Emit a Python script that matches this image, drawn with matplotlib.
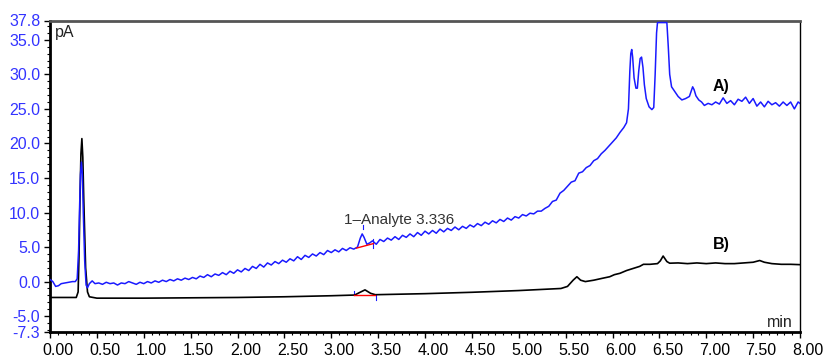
import matplotlib.pyplot as plt
import matplotlib.transforms as mtransforms
from matplotlib.ticker import MultipleLocator, FixedLocator
import numpy as np

plt.rcParams['font.family'] = ['Liberation Sans', 'DejaVu Sans']

# trace A (blue), retention time in min and signal in pA
timeA = [0.00, 0.03, 0.06, 0.09, 0.12, 0.16, 0.20, 0.24, 0.27, 0.29, 0.305, 0.315, 0.325, 0.335, 0.345,
	0.355, 0.37, 0.385,
	0.40, 0.42, 0.45, 0.48, 0.52, 0.56, 0.60, 0.64, 0.68, 0.72, 0.76, 0.80, 0.84, 0.88, 0.92, 0.96,
	1.00, 1.04, 1.08, 1.12, 1.16, 1.20, 1.24, 1.28, 1.32, 1.36, 1.40, 1.44, 1.48, 1.52, 1.56, 1.60,
	1.64, 1.68, 1.72, 1.76, 1.80, 1.84, 1.88, 1.92, 1.96, 2.00, 2.04, 2.08, 2.12, 2.16, 2.20, 2.24,
	2.28, 2.32, 2.36, 2.40, 2.44, 2.48, 2.52, 2.56, 2.60, 2.64, 2.68, 2.72, 2.76, 2.80, 2.84, 2.88,
	2.92, 2.96, 3.00, 3.04, 3.08, 3.12, 3.16, 3.20, 3.24, 3.28, 3.31, 3.33, 3.35, 3.38, 3.41, 3.44, 3.48,
	3.52, 3.56, 3.60, 3.64, 3.68, 3.72, 3.76, 3.80, 3.84, 3.88, 3.92, 3.96, 4.00, 4.04, 4.08, 4.12,
	4.16, 4.20, 4.24, 4.28, 4.32, 4.36, 4.40, 4.44, 4.48, 4.52, 4.56, 4.60, 4.64, 4.68, 4.72, 4.76,
	4.80, 4.84, 4.88, 4.92, 4.96, 5.00, 5.04, 5.08, 5.12, 5.16, 5.20, 5.24, 5.28, 5.32, 5.36, 5.40,
	5.44, 5.48, 5.52, 5.56, 5.60, 5.64, 5.68, 5.72, 5.76, 5.80, 5.84, 5.88, 5.92, 5.96, 6.00, 6.04,
	6.08, 6.12, 6.15, 6.17, 6.185, 6.195, 6.205, 6.215, 6.23, 6.25, 6.265, 6.28, 6.295, 6.31, 6.325,
	6.34, 6.36, 6.39, 6.42, 6.44,
	6.455, 6.47, 6.48, 6.58, 6.595, 6.61, 6.63, 6.66, 6.70, 6.74, 6.78, 6.82, 6.84, 6.855, 6.87, 6.89,
	6.92, 6.95,
	6.98, 7.02, 7.06, 7.10, 7.14, 7.18, 7.22, 7.26, 7.30, 7.34, 7.38, 7.42, 7.46, 7.50, 7.54, 7.58,
	7.62, 7.66, 7.70, 7.74, 7.78, 7.82, 7.86, 7.90, 7.94, 7.98, 8.00]
signalA = [0.3, 0.0, -0.7, -0.6, -0.3, -0.2, -0.1, 0.0, 0.0, 0.4, 4.5, 10.5, 15.5, 17.3, 15.5,
	10.0, 3.0, -0.5,
	-0.9, -0.3, 0.1, -0.3, -0.2, -0.4, -0.1, -0.3, -0.2, -0.5, -0.2, -0.3, 0.0, -0.2, -0.4, -0.1,
	-0.3, 0.0, -0.2, 0.1, -0.1, 0.2, 0.0, 0.3, 0.1, 0.4, 0.2, 0.5, 0.3, 0.6, 0.4, 0.8,
	0.6, 1.0, 0.7, 1.1, 0.9, 1.3, 1.0, 1.5, 1.2, 1.7, 1.4, 1.9, 1.6, 2.2, 1.9, 2.5,
	2.1, 2.7, 2.4, 2.9, 2.6, 3.1, 2.8, 3.3, 3.0, 3.6, 3.2, 3.8, 3.5, 4.0, 3.7, 4.2,
	3.9, 4.5, 4.2, 4.6, 4.3, 4.8, 4.5, 4.9, 4.7, 5.0, 6.3, 6.9, 6.4, 5.4, 5.6, 5.9, 5.4,
	6.1, 5.8, 6.3, 6.0, 6.5, 6.1, 6.7, 6.4, 6.9, 6.5, 7.1, 6.7, 7.3, 6.9, 7.4, 7.0,
	7.6, 7.2, 7.7, 7.4, 7.9, 7.5, 8.0, 7.7, 8.2, 7.9, 8.4, 8.1, 8.6, 8.3, 8.8, 8.5,
	9.0, 8.7, 9.2, 8.9, 9.4, 9.2, 9.7, 9.5, 9.9, 9.8, 10.2, 10.2, 10.6, 10.9, 11.6, 11.8,
	12.8, 13.2, 13.8, 14.4, 14.6, 15.7, 15.9, 16.5, 16.8, 17.5, 17.8, 18.5, 19.0, 19.6, 20.2, 20.8,
	21.6, 22.3, 23.0, 25.0, 30.5, 33.0, 33.6, 32.5, 29.5, 28.0, 28.0, 30.5, 32.3, 32.5, 31.0,
	28.5, 26.5, 25.3, 24.9, 25.2,
	30.0, 36.0, 37.5, 37.5, 34.0, 30.0, 28.2, 27.6, 26.8, 26.3, 26.5, 26.8, 27.6, 28.2, 27.8, 26.9,
	26.3, 26.0,
	25.5, 25.8, 25.6, 26.0, 25.7, 26.6, 25.8, 26.2, 25.6, 26.4, 26.1, 26.7, 25.8, 26.5, 25.4, 26.0,
	25.3, 26.1, 25.6, 25.9, 25.4, 26.0, 25.5, 26.0, 25.0, 26.0, 25.8]

# trace B (black)
timeB = [0.00, 0.28, 0.30, 0.31, 0.32, 0.33, 0.34, 0.35, 0.36, 0.38, 0.40, 0.42, 0.50, 1.00, 1.50,
	2.00, 2.50, 3.00, 3.25, 3.30, 3.36, 3.42, 3.47, 4.00, 4.50, 5.00, 5.30, 5.45, 5.52, 5.58, 5.62,
	5.66, 5.71, 5.80, 5.90, 5.97, 6.02, 6.08, 6.15, 6.22, 6.29, 6.33, 6.40, 6.48, 6.51, 6.54, 6.58,
	6.61, 6.70, 6.80, 6.90, 7.00, 7.10, 7.20, 7.30, 7.40, 7.50, 7.57, 7.62, 7.70, 7.80, 7.90, 8.00]
signalB = [-2.3, -2.3, -1.5, 4.0, 12.0, 18.5, 20.7, 18.0, 12.0, 2.0, -1.5, -2.2, -2.4, -2.4, -2.35,
	-2.3, -2.2, -2.05, -1.95, -1.6, -1.2, -1.7, -1.9, -1.75, -1.55, -1.3, -1.1, -1.0, -0.7, 0.2, 0.7,
	0.2, 0.0, 0.2, 0.5, 0.7, 1.0, 1.2, 1.6, 1.9, 2.2, 2.5, 2.5, 2.6, 3.0, 3.7, 2.9,
	2.66, 2.7, 2.6, 2.7, 2.6, 2.7, 2.6, 2.6, 2.7, 2.8, 3.05, 2.8, 2.6, 2.5, 2.5, 2.45]

# integration baselines of the analyte peak
baseA_t = [3.27, 3.45]
baseA_v = [4.85, 5.5]
baseB_t = [3.24, 3.47]
baseB_v = [-1.93, -1.93]

xtick_vals = [0.0, 0.5, 1.0, 1.5, 2.0, 2.5, 3.0, 3.5, 4.0, 4.5, 5.0, 5.5, 6.0, 6.5, 7.0, 7.5, 8.0]
ytick_vals = [-7.3, -5.0, 0.0, 5.0, 10.0, 15.0, 20.0, 25.0, 30.0, 35.0, 37.8]

fig = plt.figure(figsize=(8.26, 3.6), dpi=100)
ax = fig.add_axes([50/826, 28/360, 750/826, 311.5/360])

ax.plot(timeB, signalB, color='black', lw=1.2, zorder=3)
ax.plot(timeA, signalA, color='#1a1aff', lw=1.1, zorder=4)
ax.plot(baseA_t, baseA_v, color='red', lw=1.0, zorder=5)
ax.plot(baseB_t, baseB_v, color='red', lw=1.0, zorder=5)
# peak start/end markers
ax.plot([3.335, 3.335], [7.6, 8.2], color='#1a1aff', lw=0.8)
ax.plot([3.45, 3.45], [4.8, 6.2], color='#1a1aff', lw=0.8)
ax.plot([3.24, 3.24], [-2.0, -1.4], color='#1a1aff', lw=0.8)
ax.plot([3.48, 3.48], [-2.6, -1.9], color='#1a1aff', lw=0.8)

ax.text(3.14, 8.9, '1\u2013Analyte 3.336', fontsize=11, color='#333333', va='center', ha='left')
ax.text(7.07, 28.2, 'A)', fontsize=11.5, fontweight='bold', va='center', ha='left')
ax.text(7.07, 5.4, 'B)', fontsize=11.5, fontweight='bold', va='center', ha='left')
ax.text(0.006, 0.985, 'pA', transform=ax.transAxes, fontsize=11.5, color='#222222', va='top', ha='left')
ax.text(0.99, 0.005, 'min', transform=ax.transAxes, fontsize=11.5, color='#222222', va='bottom', ha='right')

ax.set_xlim(0, 8)
ax.set_ylim(-7.3, 37.8)
ax.xaxis.set_major_locator(FixedLocator(xtick_vals))
ax.xaxis.set_minor_locator(MultipleLocator(0.5/6))
ax.yaxis.set_major_locator(FixedLocator(ytick_vals))
ax.yaxis.set_minor_locator(MultipleLocator(1.0))
ax.set_xticklabels(['%.2f' % v for v in xtick_vals])
ax.set_yticklabels(['%.1f' % v for v in ytick_vals])

ax.tick_params(axis='x', which='major', length=4, width=1, labelsize=11.5, pad=4)
ax.tick_params(axis='x', which='minor', length=2.5, width=0.8)
ax.tick_params(axis='y', which='major', length=4, width=1, labelsize=11.5, labelcolor='#3333ff', pad=3)
ax.tick_params(axis='y', which='minor', length=2.5, width=0.8)

# labels sit slightly right of the tick marks as in the original software
offset = mtransforms.ScaledTranslation(8/100, 0, fig.dpi_scale_trans)
for lab in ax.get_xticklabels():
	lab.set_transform(lab.get_transform() + offset)

ax.spines['left'].set_linewidth(2)
ax.spines['bottom'].set_linewidth(2)
ax.spines['top'].set_linewidth(2)
ax.spines['top'].set_color('#555555')
ax.spines['right'].set_linewidth(1)

fig.savefig('out.png', dpi=100)
